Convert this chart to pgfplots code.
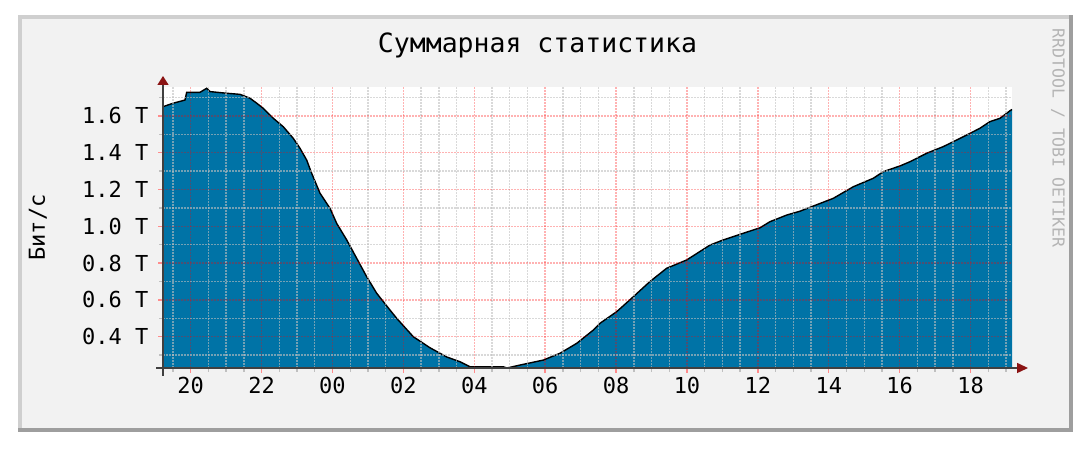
\documentclass[border=0pt]{standalone}
\usepackage{pgfplots}
\pgfplotsset{compat=1.18}
\usepackage{pgfplotstable}
\usepackage{fontspec}
\newfontfamily\rrdfont{DejaVu Sans Mono}
\usetikzlibrary{arrows.meta}
\definecolor{rrdback}{HTML}{F2F2F2}
\definecolor{shadea}{HTML}{CFCFCF}
\definecolor{shadeb}{HTML}{9E9E9E}
\definecolor{areablue}{RGB}{0,115,166}
\definecolor{arrowred}{HTML}{8B1414}
\definecolor{axisgrey}{HTML}{404040}
\definecolor{gridgrey}{HTML}{C0C0C0}
\definecolor{wmgrey}{HTML}{B4B4B4}

\pgfplotstableread{
h v
19.219 1.650
19.509 1.669
19.839 1.686
19.887 1.728
20.262 1.728
20.451 1.750
20.544 1.732
21.016 1.723
21.391 1.717
21.673 1.696
21.862 1.669
22.048 1.641
22.330 1.587
22.612 1.541
22.894 1.478
23.083 1.424
23.272 1.360
23.413 1.288
23.647 1.180
23.929 1.098
24.118 1.016
24.401 0.926
24.683 0.826
24.965 0.726
25.247 0.636
25.622 0.545
25.811 0.500
26.279 0.400
26.750 0.340
27.221 0.290
27.596 0.264
27.878 0.237
28.810 0.237
28.922 0.230
29.289 0.246
29.947 0.273
30.418 0.310
30.889 0.364
31.357 0.436
31.546 0.473
32.017 0.536
32.485 0.617
32.956 0.700
33.427 0.772
33.991 0.817
34.649 0.898
35.024 0.926
35.588 0.962
36.059 0.992
36.341 1.025
36.812 1.061
37.187 1.082
37.563 1.110
38.127 1.152
38.691 1.215
39.256 1.261
39.538 1.297
40.009 1.328
40.291 1.351
40.762 1.397
41.230 1.433
41.608 1.469
41.983 1.505
42.265 1.533
42.547 1.569
42.830 1.587
43.112 1.628
43.168 1.635
}\datatable

\begin{document}
\begin{tikzpicture}[x=1pt,y=1pt]
\path[use as bounding box] (0,0) rectangle (1090,454);
\fill[white] (0,0) rectangle (1090,454);
\fill[shadeb] (18,22) rectangle (1073,439);
\fill[shadea] (18,26) rectangle (1069,439);
\fill[rrdback] (22,26) rectangle (1069,435);
\begin{axis}[
  at={(163pt,86pt)}, anchor=south west,
  scale only axis, width=849pt, height=281pt,
  xmin=19.219, xmax=43.168, ymin=0.23, ymax=1.757,
  axis background/.style={fill=white},
  axis x line*=bottom, axis y line*=left,
  x axis line style={draw=axisgrey, line width=1.5pt, shorten <=-7pt, shorten >=-16pt,
     -{Triangle[width=10pt,length=11pt,color=arrowred]}},
  y axis line style={draw=axisgrey, line width=1.5pt, shorten <=-8pt, shorten >=-11pt,
     -{Triangle[width=11pt,length=9pt,color=arrowred]}},
  xtick={20,22,24,26,28,30,32,34,36,38,40,42},
  xticklabels={20,22,00,02,04,06,08,10,12,14,16,18},
  minor xtick={19.5,20.5,21,21.5,22.5,23,23.5,24.5,25,25.5,26.5,27,27.5,28.5,29,29.5,30.5,31,31.5,32.5,33,33.5,34.5,35,35.5,36.5,37,37.5,38.5,39,39.5,40.5,41,41.5,42.5,43},
  ytick={0.4,0.6,0.8,1.0,1.2,1.4,1.6},
  yticklabels={0.4 T,0.6 T,0.8 T,1.0 T,1.2 T,1.4 T,1.6 T},
  minor ytick={0.3,0.5,0.7,0.9,1.1,1.3,1.5,1.7},
  grid=both,
  major grid style={draw=red, draw opacity=0.3, line width=1.4pt, dash pattern=on 1.5pt off 1.5pt},
  minor grid style={draw=gridgrey, draw opacity=0.6, line width=1.4pt, dash pattern=on 1.5pt off 1.5pt},
  tick align=outside,
  major tick length=5pt, minor tick length=4pt,
  major tick style={draw=red!45, line width=1.4pt},
  minor tick style={draw=gridgrey, line width=1.4pt},
  axis on top,
  tick label style={font=\rrdfont\fontsize{22}{24}\selectfont, text=black},
  yticklabel style={xshift=-6pt},
  xticklabel style={yshift=-1pt},
]
\addplot[fill=areablue, draw=none] table[x=h,y=v]{\datatable} \closedcycle;
\addplot[black, line width=1.4pt] table[x=h,y=v]{\datatable};
\end{axis}
\node[font=\rrdfont\fontsize{26.5}{30}\selectfont] at (537.5,409) {Суммарная статистика};
\node[rotate=90, font=\rrdfont\fontsize{22}{24}\selectfont] at (38,226.5) {Бит/с};
\node[rotate=-90, text=wmgrey, font=\rrdfont\fontsize{16.5}{18}\selectfont] at (1058,316) {RRDTOOL / TOBI OETIKER};
\end{tikzpicture}
\end{document}
